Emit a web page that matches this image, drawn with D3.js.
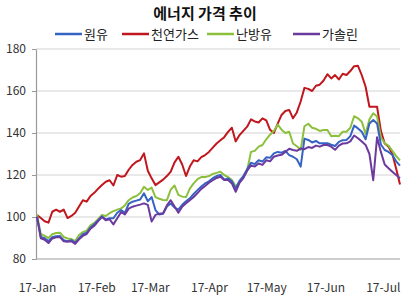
<!DOCTYPE html>
<html><head><meta charset="utf-8">
<script src="https://cdn.jsdelivr.net/npm/d3@7/dist/d3.min.js"></script>
<style>
html,body{margin:0;padding:0;background:#fff;}
svg{display:block;font-family:"Noto Sans CJK KR","Noto Sans",sans-serif;}
</style></head>
<body><svg id="c" width="408" height="307"></svg>
<script>
const title = "에너지 가격 추이";
const seriesNames = ["원유", "천연가스", "난방유", "가솔린"];
const seriesColors = ["#3563c4", "#c0161d", "#8cc03c", "#6b3a9e"];
const yTicks = [80, 100, 120, 140, 160, 180];
const startDate = new Date(2021, 0, 17);
const stepDays = 2;
const monthTicks = [new Date(2021,0,17), new Date(2021,1,17), new Date(2021,2,17), new Date(2021,3,17), new Date(2021,4,17), new Date(2021,5,17), new Date(2021,6,17)];

const crude = [100.2,90.5,89.9,88.5,90.4,90.8,90.9,89,88.5,89,87.8,89.8,91.8,92.5,95,96.6,98.5,100.3,98.8,99.4,
99.4,102,103.3,102,106.3,107.3,107.8,108.3,111.3,107.5,109.5,103.3,101.2,101.5,105,106.4,104.5,103.5,105.8,107.5,
108.9,111,112.8,114.5,116,117,118.5,119.5,120,117.8,118.4,117,113.5,117.2,119.5,122.8,125.8,125.2,127,126.4,
128.4,128.2,130.3,131,130.6,131.5,129.5,128.7,127.5,124,137.3,136.7,135.5,136.2,135.1,135.1,135.1,134.4,133.8,135.8,
136.6,136.7,138.5,143.5,142.2,140.6,137,144.5,146.2,144.5,134.5,131.9,131,129.5,126.5,124.5];
const gas = [101,99.5,98,97.3,102.5,103.5,102.5,103.5,99.5,100.5,102,105,108,107.3,110,111.5,113.5,115.2,116.8,117.5,
115,120,119.2,119.5,122.5,124.8,126.3,127.1,130.3,122,118.4,115.2,116.5,117.8,119.5,121.6,126,128.7,125,119.5,
124,127,126.5,128.5,129.5,131,133,135,136.5,138,140.5,142.5,136,139,141,143,146.5,145.5,145,147,
146,141.5,140,144.5,148.6,150.5,151,147,149.8,155,161.5,161,160,162.5,163,165,168,166,167.6,165.5,
168.2,167.6,169.5,171.8,172,167.5,162,152.5,152.5,152.5,141,135,133.5,130,123,115.5];
const heating = [101,92,91,90,91.8,92.4,92.5,90.5,89.8,89.5,88.5,91.4,92.8,93.5,96,97.2,99,101,100.5,101.8,
102.8,103.5,104.1,105.5,108,109.3,110,111.3,114.4,112.9,114,109.5,108.7,108.1,108,113,115,110.5,109.7,109.5,
113.5,116,118,119,119,119.5,120.5,121,121.6,120,119,117.6,114.5,116.8,119,122.4,131,131.5,133.5,134.3,
137,139.2,141,144,141.6,140,140.6,135,133.7,132,143.2,144.4,142.5,142,141,141.4,141.4,138.5,138.7,138.5,
140.6,140.6,142.5,148,147,145.4,139.5,146.5,149.4,147.8,138,135.1,134,131.5,129,127];
const gasoline = [100,89.8,89.2,87.6,89.8,90.3,90.4,88.4,88.2,88.5,87.2,89.4,91,91.9,94.4,95.8,98,100,98.5,98.9,
96.5,99.4,102.3,101.2,104,104.9,105.4,105.9,106.5,105.8,97.8,101,101.6,101.8,105.5,108,105,102,104.9,106.5,
108,109.5,111.4,113.4,114.8,116.3,117.5,118.6,119.2,117.6,117.6,116,112,116.3,118.5,122,124.6,124,125.5,124.8,
127,126.5,128.7,129.3,129.6,131,132.5,131.9,131.5,132.6,132.3,133.3,132.9,134,133.5,134.3,134.3,133.5,132,134,
135,135.1,136,138.8,137.5,135.9,134.3,130,117.5,138,131,125,123.2,121.5,120,118.5];

const allSeries = [crude, gas, heating, gasoline];
const dates = crude.map((_, i) => d3.timeDay.offset(startDate, i * stepDays));

const svg = d3.select("#c");
const L = 36, R = 400, T = 49, B = 259;
const x = d3.scaleTime().domain([startDate, dates[dates.length - 1]]).range([37, 400]);
const y = d3.scaleLinear().domain([80, 180]).range([B, T]);

// gridlines
svg.append("g").selectAll("line").data(yTicks.filter(v => v > 80)).join("line")
  .attr("x1", L).attr("x2", R).attr("y1", d => y(d)).attr("y2", d => y(d))
  .attr("stroke", "#d4d4d4").attr("stroke-width", 1.2);

// bottom axis line
svg.append("line").attr("x1", L).attr("x2", R).attr("y1", B).attr("y2", B)
  .attr("stroke", "#bdbdbd").attr("stroke-width", 1.5);

// y axis
const yAxis = d3.axisLeft(y).tickValues(yTicks).tickSize(4).tickSizeOuter(0).tickPadding(6);
const gy = svg.append("g").attr("transform", `translate(${L},0)`).call(yAxis);
gy.select(".domain").attr("stroke", "#9a9a9a").attr("stroke-width", 1.2);
gy.selectAll(".tick line").attr("stroke", "#9a9a9a");
gy.selectAll("text").attr("font-size", 12).attr("fill", "#333")
  .attr("font-family", "'Liberation Sans Narrow','Noto Sans CJK KR',sans-serif");

// x axis labels
const xAxis = d3.axisBottom(x).tickValues(monthTicks).tickFormat(d3.timeFormat("%d-%b")).tickSize(0).tickPadding(24);
const gx = svg.append("g").attr("transform", `translate(0,${B})`).call(xAxis);
gx.select(".domain").remove();
gx.selectAll("text").attr("font-size", 12).attr("fill", "#333")
  .attr("font-family", "'Noto Sans CJK KR',sans-serif");

// lines
const line = d3.line().x((d, i) => x(dates[i])).y(d => y(d));
const drawOrder = [1, 2, 0, 3];
drawOrder.forEach(k => {
  svg.append("path").datum(allSeries[k]).attr("d", line)
    .attr("fill", "none").attr("stroke", seriesColors[k]).attr("stroke-width", 2)
    .attr("stroke-linejoin", "round");
});

// title
svg.append("text").attr("x", 205).attr("y", 19).attr("text-anchor", "middle")
  .attr("font-size", 15).attr("font-weight", "bold").attr("fill", "#111").text(title);

// legend
const legendX = [55, 122, 207, 293];
const lg = svg.append("g");
seriesNames.forEach((n, k) => {
  lg.append("line").attr("x1", legendX[k]).attr("x2", legendX[k] + 27).attr("y1", 34).attr("y2", 34)
    .attr("stroke", seriesColors[k]).attr("stroke-width", 2.5);
  lg.append("text").attr("x", legendX[k] + 29).attr("y", 39).attr("font-size", 13).attr("fill", "#222").text(n);
});
</script></body></html>
